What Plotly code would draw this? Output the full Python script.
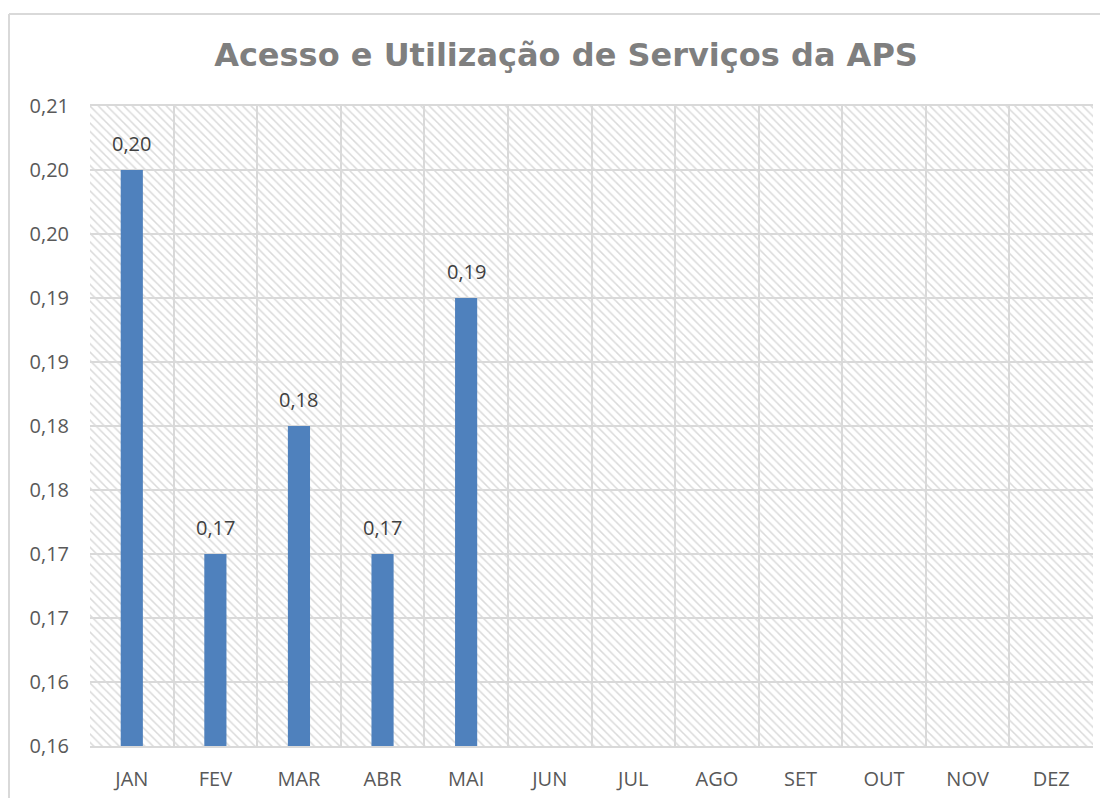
import plotly.graph_objects as go

months = ["JAN", "FEV", "MAR", "ABR", "MAI", "JUN", "JUL", "AGO", "SET", "OUT", "NOV", "DEZ"]
values = [0.205, 0.175, 0.185, 0.175, 0.195, None, None, None, None, None, None, None]
value_labels = ["0,20", "0,17", "0,18", "0,17", "0,19", "", "", "", "", "", "", ""]
y_ticks = [0.16, 0.165, 0.17, 0.175, 0.18, 0.185, 0.19, 0.195, 0.20, 0.205, 0.21]
y_tick_labels = ["0,16", "0,16", "0,17", "0,17", "0,18", "0,18", "0,19", "0,19", "0,20", "0,20", "0,21"]
y_min, y_max = 0.16, 0.21

# page body has an 8px margin, so the figure is slightly smaller than the window
W, H = 1100, 790
ml, mr, mt, mb = 82, 15, 98, 52

FONT = "Open Sans, Liberation Sans, sans-serif"
FS = 20

fig = go.Figure()

# hatched plot-area background
fig.add_trace(go.Bar(
    x=months, y=[y_max - y_min] * len(months), base=[y_min] * len(months),
    width=1.0,
    marker=dict(color="rgba(0,0,0,0)", line=dict(width=0),
                pattern=dict(shape="\\", fgcolor="#dadada", bgcolor="rgba(0,0,0,0)",
                             size=6, solidity=0.25, fillmode="replace")),
    hoverinfo="skip", showlegend=False,
))

fig.add_trace(go.Bar(
    x=months, y=[(v - y_min) if v is not None else None for v in values],
    base=[y_min] * len(months),
    width=0.265,
    marker=dict(color="#4f81bd", line=dict(width=0)),
    hoverinfo="x+text", hovertext=value_labels,
    showlegend=False,
))

# data labels
for m, v, lab in zip(months, values, value_labels):
    if v is None:
        continue
    fig.add_annotation(x=m, y=v, text=lab, showarrow=False, yanchor="bottom",
                       yshift=11, font=dict(family=FONT, size=FS, color="#404040"))

fig.update_layout(
    width=W, height=H,
    margin=dict(l=ml, r=mr, t=mt, b=mb, autoexpand=False),
    barmode="overlay",
    paper_bgcolor="white", plot_bgcolor="white",
    title=dict(text="<b>Acesso e Utilização de Serviços da APS</b>",
               x=558 / W, xanchor="center", y=1 - 47 / H, yanchor="middle",
               font=dict(family="DejaVu Sans, Verdana, sans-serif", size=32, color="#7f7f7f")),
    font=dict(family=FONT, size=FS, color="#595959"),
)

fig.update_xaxes(
    type="category", tickson="boundaries", showgrid=True, gridcolor="#d9d9d9", gridwidth=2,
    ticks="", showline=True, linecolor="#d9d9d9", linewidth=2, mirror=True,
    tickfont=dict(family=FONT, size=FS, color="#595959"), ticklabelstandoff=14,
    range=[-0.5, 11.5], automargin=False,
)
fig.update_yaxes(
    range=[y_min, y_max], tickvals=y_ticks, ticktext=y_tick_labels,
    showgrid=True, gridcolor="#d9d9d9", gridwidth=2, zeroline=False,
    showline=False, ticks="", ticklabelstandoff=20,
    tickfont=dict(family=FONT, size=FS, color="#595959"), automargin=False,
)

# outer chart border (top and left visible)
pw, ph = W - ml - mr, H - mt - mb
def px_x(x):
    return (x - ml) / pw
def px_y(y):
    return (H - mb - y) / ph
fig.add_shape(type="line", xref="paper", yref="paper",
              x0=px_x(1), x1=px_x(W + 5), y0=px_y(6), y1=px_y(6),
              line=dict(color="#d9d9d9", width=2))
fig.add_shape(type="line", xref="paper", yref="paper",
              x0=px_x(1), x1=px_x(1), y0=px_y(6), y1=px_y(H + 5),
              line=dict(color="#d9d9d9", width=2))

fig.write_html("out.html")
